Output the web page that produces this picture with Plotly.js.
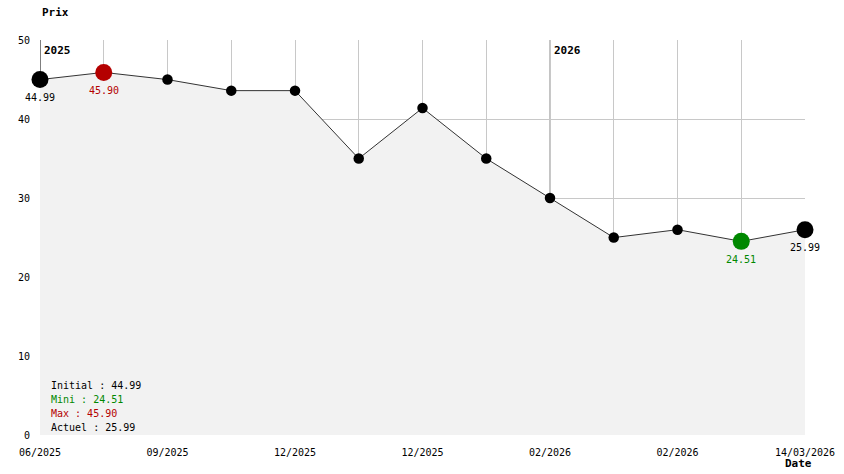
<!DOCTYPE html>
<html>
<head>
<meta charset="utf-8">
<script src="https://cdn.plot.ly/plotly-3.0.1.min.js"></script>
<style>html,body{margin:0;padding:0;background:#fff;}#chart{width:844px;height:474px;}</style>
</head>
<body>
<div id="chart"></div>
<script>
// Data
const prices = [44.99, 45.90, 44.99, 43.59, 43.59, 34.99, 41.39, 34.99, 29.99, 24.99, 25.99, 24.51, 25.99];
const xTickLabels = ['06/2025','','09/2025','','12/2025','','12/2025','','02/2026','','02/2026','','14/03/2026'];
const yearLabels = ['2025', '2026'];
const yearIndex = [0, 8];
const yTicks = [0, 10, 20, 30, 40, 50];

const RED = '#b40000', GREEN = '#008800';
const FONT = 'DejaVu Sans Mono, Liberation Mono, monospace';

const xs = prices.map((_, i) => i);
const n = prices.length;
const maxV = Math.max(...prices), minV = Math.min(...prices);
const iMax = prices.indexOf(maxV), iMin = prices.indexOf(minV);

const sizes = prices.map((v, i) => (i === 0 || i === n - 1 || i === iMax || i === iMin) ? 17 : 10.5);
const colors = prices.map((v, i) => i === iMax ? RED : (i === iMin ? GREEN : '#000'));

const trace = {
  x: xs, y: prices, type: 'scatter', mode: 'lines+markers',
  fill: 'tozeroy', fillcolor: '#f2f2f2',
  line: {color: '#333', width: 1},
  marker: {size: sizes, color: colors, opacity: 1, line: {width: 0}},
  hoverinfo: 'skip', cliponaxis: false
};

const annotations = [];
// value labels
[[0, '#000'], [iMax, RED], [iMin, GREEN], [n - 1, '#000']].forEach(([i, c]) => {
  annotations.push({x: i, y: prices[i], xref: 'x', yref: 'y', text: prices[i].toFixed(2),
    showarrow: false, yshift: -18, yanchor: 'middle', font: {family: FONT, size: 10, color: c}});
});
// year labels
yearIndex.forEach((idx, k) => {
  annotations.push({x: idx, y: 50, xref: 'x', yref: 'y', text: '<b>' + yearLabels[k] + '</b>',
    showarrow: false, xanchor: 'left', yanchor: 'top', xshift: 2, yshift: -2,
    font: {family: FONT, size: 11, color: '#000'}});
});
// stats box
const stats = [
  ['Initial : ' + prices[0].toFixed(2), '#000'],
  ['Mini : ' + minV.toFixed(2), GREEN],
  ['Max : ' + maxV.toFixed(2), RED],
  ['Actuel : ' + prices[n - 1].toFixed(2), '#000']
];
const statY = [385.5, 399.5, 413.5, 427.5];
stats.forEach(([t, c], k) => {
  annotations.push({xref: 'paper', yref: 'paper', x: (49 - 40) / 765, y: (435 - statY[k]) / 395,
    text: t, showarrow: false, xanchor: 'left', yanchor: 'middle',
    font: {family: FONT, size: 10, color: c}});
});
// axis titles
annotations.push({xref: 'paper', yref: 'paper', x: 0, y: (435 - 12) / 395, text: '<b>Prix</b>',
  showarrow: false, xanchor: 'left', yanchor: 'middle', font: {family: FONT, size: 11, color: '#000'}});
annotations.push({xref: 'paper', yref: 'paper', x: (783 - 40) / 765, y: (435 - 463) / 395, text: '<b>Date</b>',
  showarrow: false, xanchor: 'left', yanchor: 'middle', font: {family: FONT, size: 11, color: '#000'}});

const shapes = yearIndex.map((idx, k) => ({
  type: 'line', xref: 'x', yref: 'y', x0: idx, x1: idx, y0: 50, y1: prices[idx],
  line: {color: k === 0 ? '#000' : '#888', width: 1}, layer: 'below'
}));

const layout = {
  width: 844, height: 474,
  margin: {l: 40, r: 39, t: 40, b: 39},
  paper_bgcolor: '#fff', plot_bgcolor: '#fff',
  showlegend: false,
  font: {family: FONT, size: 10, color: '#000'},
  xaxis: {range: [0, n - 1], tickvals: xs, ticktext: xTickLabels, showgrid: true,
    gridcolor: '#c8c8c8', gridwidth: 1, zeroline: false, showline: false, ticks: '',
    ticklabelstandoff: 10, tickangle: 0, fixedrange: true,
    tickfont: {family: FONT, size: 10, color: '#000'}},
  yaxis: {range: [0, 50], tickvals: yTicks, showgrid: true, gridcolor: '#c8c8c8', gridwidth: 1,
    zeroline: false, showline: false, ticks: '', ticklabelstandoff: 9, fixedrange: true,
    tickfont: {family: FONT, size: 10, color: '#000'}},
  annotations: annotations,
  shapes: shapes
};

Plotly.newPlot('chart', [trace], layout, {displayModeBar: false, staticPlot: true});
</script>
</body>
</html>
